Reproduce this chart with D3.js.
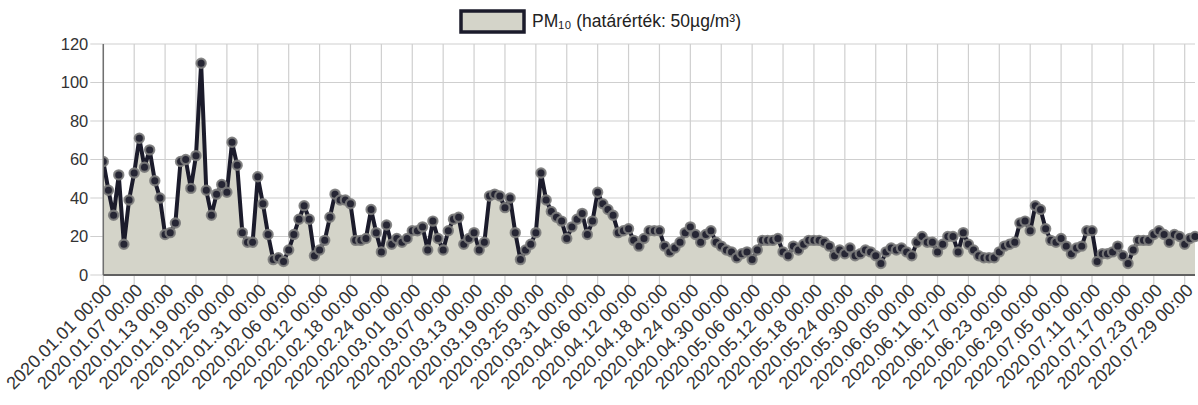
<!DOCTYPE html>
<html>
<head>
<meta charset="utf-8">
<script src="https://cdn.jsdelivr.net/npm/d3@7"></script>
<style>
  html, body { margin: 0; padding: 0; background: #fff; }
  svg { display: block; font-family: "Liberation Sans", Arial, sans-serif; }
</style>
</head>
<body>
<svg id="chart" width="1198" height="405"></svg>
<script>
// ---- data ----
const startDate = "2020.01.01 00:00";
const endDate = "2020.07.31 00:00";
const seriesName = "PM\u2081\u2080 (határérték: 50µg/m³)";
const pm10 = [
  59,44,31,52,16,39,53,71,56,65,49,40,21,22,27,59,60,45,62,110,
  44,31,42,47,43,69,57,22,17,17,51,37,21,8,9,7,13,21,29,36,
  29,10,13,18,30,42,39,39,37,18,18,19,34,22,12,26,16,19,17,19,
  23,23,25,13,28,19,13,23,29,30,16,19,22,13,17,41,42,41,35,40,
  22,8,13,16,22,53,39,33,30,28,19,25,29,32,21,28,43,37,34,31,
  22,23,24,18,15,19,23,23,23,15,12,14,17,22,25,21,17,21,23,17,
  15,13,12,9,11,12,8,13,18,18,18,19,12,10,15,13,16,18,18,18,
  17,15,10,13,11,14,10,11,13,12,10,6,12,14,13,14,12,10,17,20,
  17,17,12,16,20,20,12,22,16,13,10,9,9,9,12,15,16,17,27,28,
  23,36,34,24,18,17,19,15,11,14,15,23,23,7,11,11,12,15,10,6,
  13,18,18,18,21,23,21,17,21,20,16,19,20
];
const xTickLabels = [
  "2020.01.01 00:00","2020.01.07 00:00","2020.01.13 00:00","2020.01.19 00:00",
  "2020.01.25 00:00","2020.01.31 00:00","2020.02.06 00:00","2020.02.12 00:00",
  "2020.02.18 00:00","2020.02.24 00:00","2020.03.01 00:00","2020.03.07 00:00",
  "2020.03.13 00:00","2020.03.19 00:00","2020.03.25 00:00","2020.03.31 00:00",
  "2020.04.06 00:00","2020.04.12 00:00","2020.04.18 00:00","2020.04.24 00:00",
  "2020.04.30 00:00","2020.05.06 00:00","2020.05.12 00:00","2020.05.18 00:00",
  "2020.05.24 00:00","2020.05.30 00:00","2020.06.05 00:00","2020.06.11 00:00",
  "2020.06.17 00:00","2020.06.23 00:00","2020.06.29 00:00","2020.07.05 00:00",
  "2020.07.11 00:00","2020.07.17 00:00","2020.07.23 00:00","2020.07.29 00:00"
];
const yTicks = [0, 20, 40, 60, 80, 100, 120];

// ---- build ----
const parse = d3.timeParse("%Y.%m.%d %H:%M");
const t0 = parse(startDate);
const data = pm10.map((v, i) => ({ date: d3.timeDay.offset(t0, i), value: v }));
const tickDates = xTickLabels.map(parse);

const svg = d3.select("#chart");
const pLeft = 103.3, pRight = 1195, pTop = 44, pBottom = 275;

const x = d3.scaleTime().domain([t0, parse(endDate)]).range([pLeft, pRight]);
const y = d3.scaleLinear().domain([0, 120]).range([pBottom, pTop]);

// clip
svg.append("defs").append("clipPath").attr("id", "clip")
  .append("rect").attr("x", pLeft).attr("y", pTop - 10).attr("width", pRight - pLeft + 6).attr("height", pBottom - pTop + 12);

// horizontal grid
svg.append("g").selectAll("line").data(yTicks).join("line")
  .attr("x1", pLeft - 13).attr("x2", pRight)
  .attr("y1", d => y(d)).attr("y2", d => y(d))
  .attr("stroke", "#cfcfcf").attr("stroke-width", 1.2);

// vertical grid + x ticks
svg.append("g").selectAll("line").data(tickDates).join("line")
  .attr("x1", d => x(d)).attr("x2", d => x(d))
  .attr("y1", pTop).attr("y2", pBottom + 12)
  .attr("stroke", "#cfcfcf").attr("stroke-width", 1.2);

// area
const area = d3.area().x(d => x(d.date)).y0(y(0)).y1(d => y(d.value));
const line = d3.line().x(d => x(d.date)).y(d => y(d.value));
const plot = svg.append("g").attr("clip-path", "url(#clip)");
plot.append("path").datum(data).attr("d", area).attr("fill", "#d4d4c9");

// axes lines
svg.append("line").attr("x1", pLeft).attr("x2", pLeft).attr("y1", pTop).attr("y2", pBottom)
  .attr("stroke", "#707070").attr("stroke-width", 1.5);
svg.append("line").attr("x1", pLeft).attr("x2", pRight).attr("y1", pBottom).attr("y2", pBottom)
  .attr("stroke", "#606060").attr("stroke-width", 2);

plot.append("path").datum(data).attr("d", line)
  .attr("fill", "none").attr("stroke", "#1b1b2b").attr("stroke-width", 4)
  .attr("stroke-linejoin", "round");

plot.append("g").selectAll("circle").data(data).join("circle")
  .attr("cx", d => x(d.date)).attr("cy", d => y(d.value)).attr("r", 4.6)
  .attr("fill", "#262634").attr("stroke", "#7c7c7c").attr("stroke-width", 2.2)
  .attr("stroke-opacity", 0.9);

// y labels
svg.append("g").selectAll("text").data(yTicks).join("text")
  .attr("x", pLeft - 15).attr("y", d => y(d)).attr("dy", "0.35em")
  .attr("text-anchor", "end").attr("font-size", 16.5).attr("fill", "#333")
  .text(d => d);

// x labels
svg.append("g").selectAll("text").data(tickDates).join("text")
  .attr("transform", d => `translate(${x(d) + 5},${pBottom + 12}) rotate(-45)`)
  .attr("text-anchor", "end").attr("dy", "0.35em")
  .attr("font-size", 18).attr("fill", "#333")
  .text((d, i) => xTickLabels[i]);

// legend
svg.append("rect").attr("x", 461).attr("y", 11).attr("width", 63).attr("height", 21)
  .attr("fill", "#d4d4c9").attr("stroke", "#1b1b2b").attr("stroke-width", 3.5);
svg.append("text").attr("x", 532).attr("y", 27).attr("font-size", 17.5).attr("fill", "#222")
  .text(seriesName);
</script>
</body>
</html>
